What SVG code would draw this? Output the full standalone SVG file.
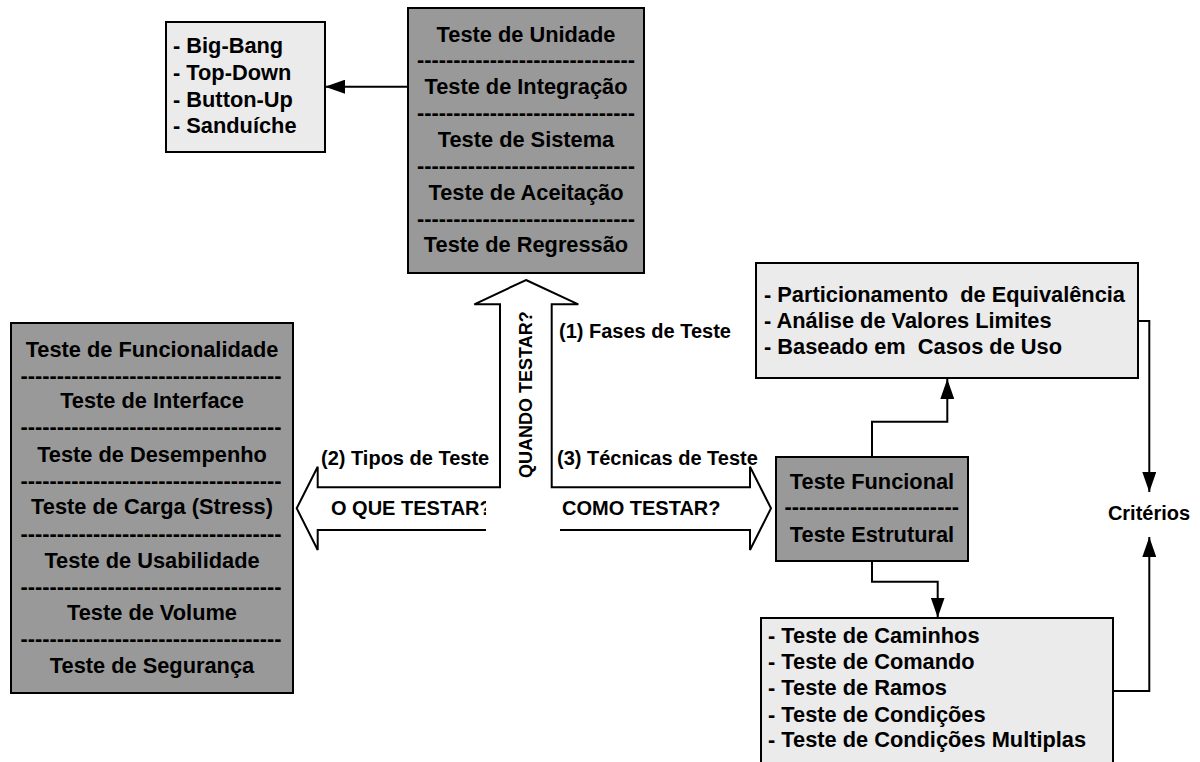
<svg xmlns="http://www.w3.org/2000/svg" width="1200" height="762" viewBox="0 0 1200 762">
<style>
.dark{fill:#999999;stroke:#000;stroke-width:2}
.light{fill:#ebebeb;stroke:#000;stroke-width:2}
text{font-family:"Liberation Sans",Arial,sans-serif;font-weight:bold;fill:#000}
.n{font-size:21.8px;text-anchor:middle}
.l{font-size:21.8px}
.lab{font-size:20px}
.con{fill:none;stroke:#000;stroke-width:2;marker-end:url(#ah)}
</style>
<defs>
<marker id="ah" markerUnits="userSpaceOnUse" markerWidth="20" markerHeight="14" refX="20" refY="7" orient="auto">
<path d="M0,0 L20,7 L0,14 z" fill="#000"/>
</marker>
</defs>
<rect width="1200" height="762" fill="#fff"/>

<g id="big-arrow">
<polygon points="526,280 578.3,304.3 551.7,304.3 551.7,487.3 750,487.3 750,466.7 771,508.3 750,550 750,530 317.7,530 317.7,550 296.7,508.3 317.7,466.7 317.7,487.3 500,487.3 500,304.3 474.3,304.3" fill="#fff" stroke="#000" stroke-width="2"/>
<text class="lab" x="331" y="515">O QUE TESTAR?</text>
<rect x="486" y="489" width="74" height="43" fill="#fff"/>
<text class="lab" x="562" y="515">COMO TESTAR?</text>
<text class="lab" x="532" y="478" style="font-size:18px" transform="rotate(-90 532 478)">QUANDO TESTAR?</text>
<text class="lab" x="559" y="338">(1) Fases de Teste</text>
<text class="lab" x="321" y="465">(2) Tipos de Teste</text>
<text class="lab" x="557" y="465">(3) Técnicas de Teste</text>
</g>

<g id="connectors">
<polyline class="con" points="408,86.7 325,86.7"/>
<polyline class="con" points="872,457 872,421.7 947.3,421.7 947.3,379"/>
<polyline class="con" points="872,561 872,581.7 937.7,581.7 937.7,617.5"/>
<polyline class="con" points="1138,321 1149.3,321 1149.3,492"/>
<polyline class="con" points="1113,691 1149.3,691 1149.3,537"/>
</g>

<g id="fases">
<rect class="dark" x="408" y="8" width="236" height="265"/>
<text class="n" x="526" y="42">Teste de Unidade</text>
<text class="n" x="526" y="67" textLength="218">------------------------------</text>
<text class="n" x="526" y="94">Teste de Integração</text>
<text class="n" x="526" y="120.4" textLength="218">------------------------------</text>
<text class="n" x="526" y="146.5">Teste de Sistema</text>
<text class="n" x="526" y="172.8" textLength="218">------------------------------</text>
<text class="n" x="526" y="199.5">Teste de Aceitação</text>
<text class="n" x="526" y="226" textLength="218">------------------------------</text>
<text class="n" x="526" y="252">Teste de Regressão</text>
</g>

<g id="integracao">
<rect class="light" x="166" y="22" width="159" height="130"/>
<text class="l" x="173" y="53.3">- Big-Bang</text>
<text class="l" x="173" y="80">- Top-Down</text>
<text class="l" x="173" y="106.5">- Button-Up</text>
<text class="l" x="173" y="132.5">- Sanduíche</text>
</g>

<g id="tipos">
<rect class="dark" x="11" y="323" width="282" height="370"/>
<text class="n" x="152" y="356.7">Teste de Funcionalidade</text>
<text class="n" x="151" y="382.8" textLength="261">------------------------------------</text>
<text class="n" x="152" y="408.3">Teste de Interface</text>
<text class="n" x="151" y="434.4" textLength="261">------------------------------------</text>
<text class="n" x="152" y="461.7">Teste de Desempenho</text>
<text class="n" x="151" y="487.8" textLength="261">------------------------------------</text>
<text class="n" x="152" y="514.3">Teste de Carga (Stress)</text>
<text class="n" x="151" y="541" textLength="261">------------------------------------</text>
<text class="n" x="152" y="568.3">Teste de Usabilidade</text>
<text class="n" x="151" y="594.4" textLength="261">------------------------------------</text>
<text class="n" x="152" y="620">Teste de Volume</text>
<text class="n" x="151" y="646" textLength="261">------------------------------------</text>
<text class="n" x="152" y="672.7">Teste de Segurança</text>
</g>

<g id="tecnicas">
<rect class="dark" x="776" y="457" width="192" height="104"/>
<text class="n" x="872" y="489">Teste Funcional</text>
<text class="n" x="871.7" y="514.4" textLength="174.5">------------------------</text>
<text class="n" x="872" y="541.7">Teste Estrutural</text>
</g>

<g id="funcional">
<rect class="light" x="756" y="263" width="382" height="115"/>
<text class="l" x="764" y="301.7" xml:space="preserve">- Particionamento  de Equivalência</text>
<text class="l" x="764" y="328.3">- Análise de Valores Limites</text>
<text class="l" x="764" y="354.3" xml:space="preserve">- Baseado em  Casos de Uso</text>
</g>

<g id="estrutural">
<rect class="light" x="761" y="618" width="352" height="160"/>
<text class="l" x="768" y="643.3">- Teste de Caminhos</text>
<text class="l" x="768" y="669.3">- Teste de Comando</text>
<text class="l" x="768" y="695">- Teste de Ramos</text>
<text class="l" x="768" y="721.7">- Teste de Condições</text>
<text class="l" x="768" y="747.3">- Teste de Condições Multiplas</text>
</g>

<g id="criterios">
<text class="lab" x="1149" y="520" text-anchor="middle">Critérios</text>
</g>
</svg>
